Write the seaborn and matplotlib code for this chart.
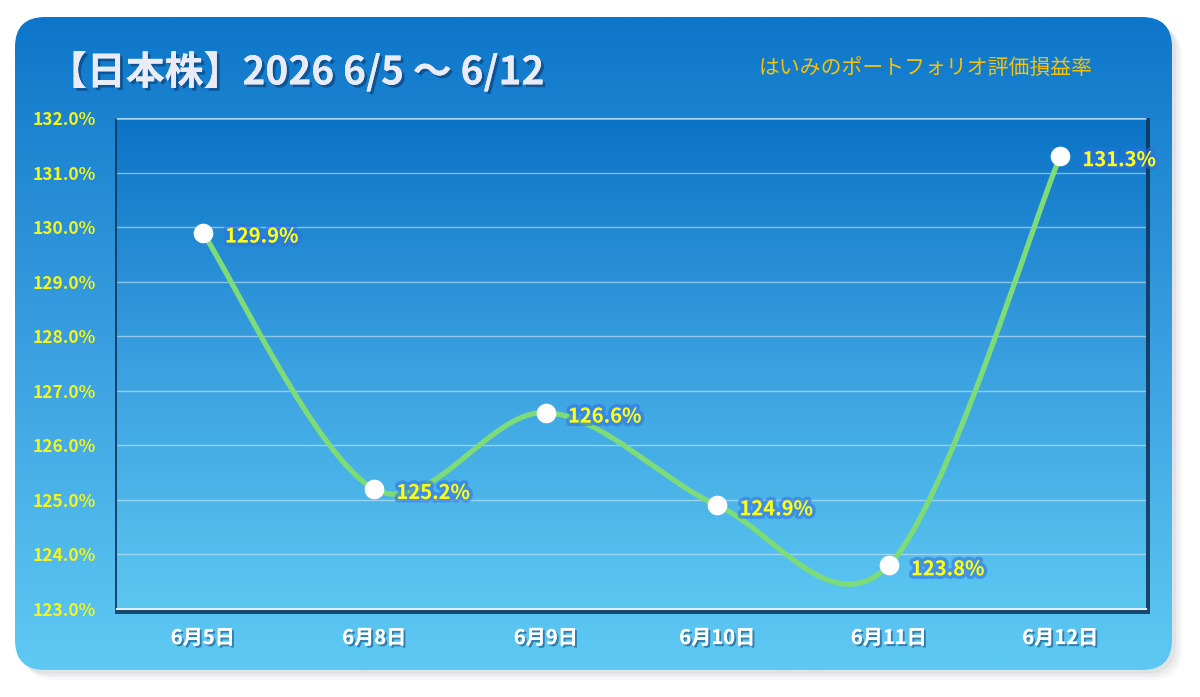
import numpy as np
import matplotlib
matplotlib.use('Agg')
import matplotlib.pyplot as plt
import matplotlib.patheffects as pe
from matplotlib.patches import FancyBboxPatch, Rectangle, PathPatch
from matplotlib.path import Path
from matplotlib.colors import LinearSegmentedColormap
from matplotlib.ticker import FixedLocator
import seaborn as sns

# data
dates = ['6月5日', '6月8日', '6月9日', '6月10日', '6月11日', '6月12日']
rates = [129.9, 125.2, 126.6, 124.9, 123.8, 131.3]
y_ticks = [123.0, 124.0, 125.0, 126.0, 127.0, 128.0, 129.0, 130.0, 131.0, 132.0]

title = '【日本株】2026 6/5 ～ 6/12'
subtitle = 'はいみのポートフォリオ評価損益率'

sns.set_theme(style='white')
plt.rcParams['font.family'] = ['Noto Sans CJK JP', 'DejaVu Sans']

fig = plt.figure(figsize=(12, 6.97), dpi=100, facecolor='white')

# background card (pixel coords)
bg = fig.add_axes([0, 0, 1, 1])
bg.axis('off')
cx, cy, cw, ch = 15, 17, 1157, 653
for k, a in [(10, 0.06), (7, 0.08), (4, 0.10)]:
    bg.add_patch(FancyBboxPatch((cx + k, cy + k), cw, ch, boxstyle='round,pad=0,rounding_size=30',
                                fc='#7a8290', ec='none', alpha=a))
card = FancyBboxPatch((cx, cy), cw, ch, boxstyle='round,pad=0,rounding_size=30', fc='none', ec='none')
bg.add_patch(card)
grad = np.linspace(0, 1, 256).reshape(-1, 1)
card_cmap = LinearSegmentedColormap.from_list('card', ['#0d76c9', '#3a9fe0', '#5ecaf3'])
img = bg.imshow(grad, extent=[cx, cx + cw, cy + ch, cy], cmap=card_cmap, aspect='auto', zorder=1)
img.set_clip_path(card)

# plot area shadow + gradient
px0, py0, px1, py1 = 117, 118, 1146, 609
bg.add_patch(Rectangle((px0 - 2.5, py0), px1 - px0 + 6, py1 - py0 + 5, fc='#0b3158', ec='none', alpha=0.85, zorder=2))
plot_cmap = LinearSegmentedColormap.from_list('plot', ['#0b73c6', '#3aa0e0', '#5bc7f1'])
bg.imshow(grad, extent=[px0, px1, py1, py0], cmap=plot_cmap, aspect='auto', zorder=3)
bg.plot([px0, px1], [py0 + 0.5, py0 + 0.5], color='#8cc4ee', lw=1.2, zorder=4)
bg.set_xlim(0, 1200)
bg.set_ylim(697, 0)

# chart axes
ax = fig.add_axes([px0 / 1200, 1 - py1 / 697, (px1 - px0) / 1200, (py1 - py0) / 697])
ax.patch.set_alpha(0)

x = np.arange(len(rates))
pts = np.column_stack([x, rates]).astype(float)
n = len(pts)
verts = [pts[0]]
codes = [Path.MOVETO]
for i in range(n - 1):
    prev = pts[max(i - 1, 0)]
    nxt = pts[min(i + 2, n - 1)]
    verts += [pts[i] + (pts[i + 1] - prev) / 6, pts[i + 1] - (nxt - pts[i]) / 6, pts[i + 1]]
    codes += [Path.CURVE4] * 3
ax.add_patch(PathPatch(Path(verts, codes), fill=False, ec='#7ddc78', lw=3.8,
                       capstyle='round', joinstyle='round', zorder=4))

sns.scatterplot(x=x, y=rates, s=200, color='white', edgecolor='white', linewidth=0,
                zorder=5, ax=ax, legend=False)

glow = [pe.withStroke(linewidth=5, foreground='#2f6fe0', alpha=0.55)]
for i, v in enumerate(rates):
    ax.annotate(f'{v:.1f}%', (i, v), xytext=(16, -2.5), textcoords='offset points',
                ha='left', va='center', fontsize=14.5, fontweight='bold', color='#ffff1a',
                path_effects=glow, zorder=6)

ax.set_xlim(-0.5, len(rates) - 0.5)
ax.set_ylim(y_ticks[0], y_ticks[-1])
ax.set_yticks(y_ticks)
ax.set_yticklabels([f'{t:.1f}%' for t in y_ticks], color='#f5f51c', fontsize=12.5, fontweight='bold')
ax.set_xticks(x)
ax.set_xticklabels(dates, color='white', fontsize=14.5, fontweight='bold')
for t in ax.get_xticklabels():
    t.set_path_effects([pe.withSimplePatchShadow(offset=(1.5, -1.5), shadow_rgbFace='#1a4f80', alpha=0.6), pe.Normal()])
ax.tick_params(axis='y', length=0, pad=15)
ax.tick_params(axis='x', which='major', length=0, pad=13)
ax.xaxis.set_minor_locator(FixedLocator(np.arange(-0.5, len(rates), 1.0)))
ax.tick_params(axis='x', which='minor', length=5, width=1, color='#e6f3fc', direction='out')

ax.yaxis.grid(True, color='#cfe6f8', alpha=0.6, lw=1)
ax.xaxis.grid(False)
for s in ['top', 'right', 'left']:
    ax.spines[s].set_visible(False)
ax.spines['bottom'].set_color('#dff0fc')
ax.spines['bottom'].set_linewidth(1.5)

fig.text(48 / 1200, 1 - 72 / 697, title, fontsize=28, fontweight='bold', color='#e9ecf7',
         va='center', ha='left',
         path_effects=[pe.withSimplePatchShadow(offset=(2, -2), shadow_rgbFace='#0a3a70', alpha=0.6), pe.Normal()])
fig.text(926 / 1200, 1 - 68 / 697, subtitle, fontsize=15, color='#f5c10a',
         va='center', ha='center')

fig.savefig('out.png', dpi=100)
